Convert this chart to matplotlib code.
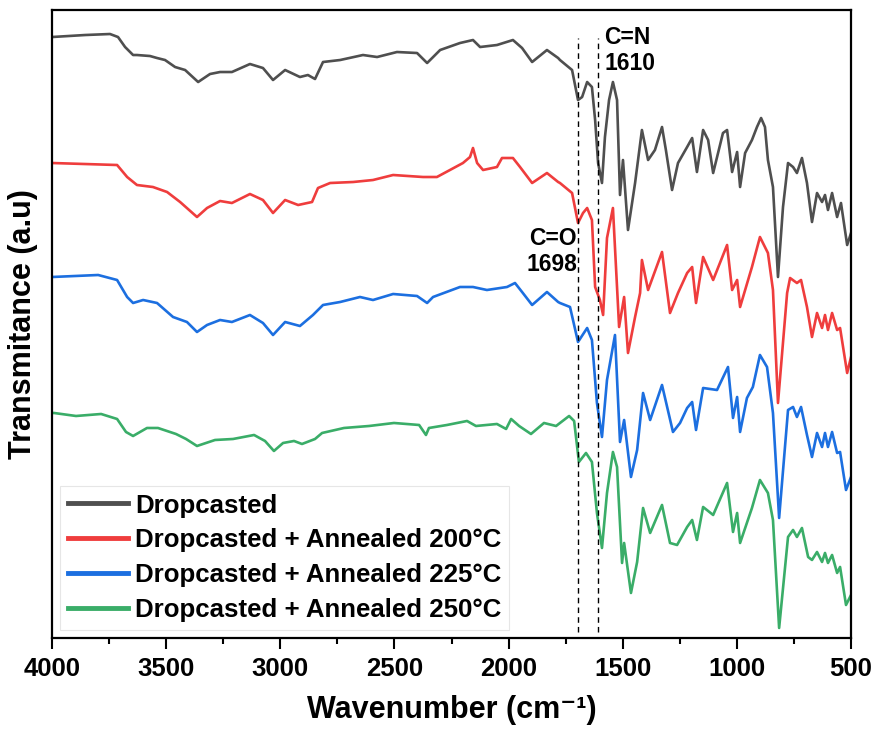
import matplotlib
matplotlib.use("Agg")
import matplotlib.pyplot as plt
from matplotlib.ticker import MultipleLocator

plt.rcParams['font.family'] = ['Liberation Sans', 'DejaVu Sans']
plt.rcParams['font.weight'] = 'bold'

labels = ["Dropcasted",
          "Dropcasted + Annealed 200\u00b0C",
          "Dropcasted + Annealed 225\u00b0C",
          "Dropcasted + Annealed 250\u00b0C"]
colors = ["#4f4f4f", "#ef3d3d", "#1c6fe0", "#3aad68"]

# Dropcasted
wn_gray = [4000, 3855, 3746, 3711, 3680, 3645, 3628, 3571, 3540, 3505, 3461, 3417, 3360, 3308,
           3264, 3212, 3133, 3076, 3032, 2979, 2914, 2879, 2848, 2813, 2738, 2638, 2576, 2489,
           2401, 2357, 2335, 2300, 2213, 2156, 2125, 2051, 1981, 1941, 1897, 1832, 1783, 1775,
           1722, 1696, 1678, 1656, 1635, 1621, 1608, 1591, 1578, 1560, 1543, 1525, 1512, 1499,
           1477, 1446, 1416, 1389, 1359, 1328, 1311, 1284, 1258, 1218, 1196, 1175, 1148, 1126,
           1104, 1061, 1043, 1021, 999, 986, 964, 934, 912, 894, 877, 864, 842, 820, 798, 776,
           754, 737, 715, 693, 671, 649, 627, 614, 601, 583, 561, 544, 517, 500]
t_gray = [601, 603, 604, 601, 591, 583, 583, 582, 580, 578, 571, 568, 556, 564,
          566, 566, 574, 570, 558, 568, 561, 563, 559, 576, 578, 583, 581, 586,
          585, 575, 580, 588, 595, 598, 591, 593, 598, 590, 576, 588, 580, 578,
          568, 538, 541, 556, 551, 518, 475, 455, 501, 538, 556, 538, 443, 478,
          408, 455, 508, 478, 488, 511, 488, 448, 475, 491, 500, 466, 508, 498,
          465, 505, 508, 466, 486, 451, 485, 498, 511, 520, 511, 478, 451, 361, 431, 475,
          471, 465, 480, 455, 416, 445, 436, 443, 428, 445, 421, 435, 393, 405]

# Annealed 200 C
wn_red = [4000, 3715, 3671, 3628, 3558, 3496, 3439, 3365, 3321, 3264, 3212, 3133, 3076, 3032,
          2979, 2922, 2861, 2835, 2782, 2681, 2594, 2506, 2375, 2314, 2257, 2200, 2169, 2156,
          2138, 2112, 2051, 2029, 1981, 1950, 1897, 1832, 1783, 1775, 1722, 1696, 1674, 1656,
          1635, 1621, 1600, 1586, 1569, 1543, 1516, 1494, 1477, 1446, 1424, 1416, 1389, 1328,
          1293, 1258, 1218, 1196, 1179, 1148, 1104, 1043, 1021, 999, 986, 934, 899, 864, 842,
          820, 780, 767, 737, 719, 693, 671, 649, 627, 614, 601, 583, 561, 548, 517, 500]
t_red = [475, 473, 461, 453, 451, 446, 436, 421, 430, 437, 435, 444, 438, 425,
         438, 433, 436, 450, 455, 456, 458, 463, 461, 461, 468, 475, 481, 490,
         475, 468, 471, 480, 480, 471, 455, 465, 456, 455, 445, 415, 425, 430,
         418, 351, 338, 323, 400, 430, 311, 341, 285, 321, 345, 378, 348, 386,
         325, 345, 365, 371, 335, 381, 358, 393, 348, 358, 331, 371, 401, 385, 348,
         235, 345, 360, 355, 358, 331, 301, 325, 310, 323, 308, 325, 308, 310, 265, 281]

# Annealed 225 C
wn_blue = [4000, 3798, 3715, 3671, 3645, 3601, 3540, 3470, 3409, 3365, 3321, 3264, 3212, 3133,
           3076, 3032, 2979, 2914, 2857, 2813, 2738, 2651, 2594, 2506, 2401, 2357, 2331, 2213,
           2156, 2095, 2007, 1972, 1941, 1897, 1832, 1783, 1775, 1731, 1696, 1656, 1635, 1613,
           1591, 1569, 1534, 1512, 1494, 1464, 1437, 1411, 1380, 1328, 1280, 1249, 1218, 1196,
           1179, 1148, 1087, 1039, 1017, 999, 986, 956, 930, 899, 868, 842, 815, 776, 754, 737,
           719, 693, 671, 649, 627, 614, 601, 583, 561, 548, 522, 500]
t_blue = [361, 363, 358, 341, 335, 338, 335, 321, 316, 306, 313, 318, 316, 323,
          315, 303, 316, 312, 323, 333, 336, 341, 338, 344, 342, 335, 341, 351,
          351, 348, 351, 355, 346, 333, 346, 336, 335, 331, 296, 310, 298, 235,
          201, 258, 303, 196, 218, 161, 188, 245, 218, 253, 206, 215, 230, 236,
          208, 250, 248, 271, 220, 241, 206, 240, 251, 283, 271, 225, 120, 228, 231, 221,
          231, 203, 181, 205, 191, 205, 191, 206, 185, 186, 148, 161]

# Annealed 250 C
wn_green = [4000, 3991, 3895, 3785, 3715, 3676, 3645, 3584, 3536, 3457, 3413, 3365, 3286, 3207,
            3115, 3067, 3028, 2988, 2940, 2905, 2848, 2817, 2721, 2611, 2502, 2392, 2362, 2349,
            2270, 2182, 2143, 2051, 2011, 1989, 1954, 1902, 1845, 1792, 1735, 1713, 1692, 1661,
            1635, 1613, 1591, 1569, 1543, 1525, 1503, 1494, 1464, 1437, 1411, 1380, 1328, 1293,
            1262, 1218, 1196, 1175, 1148, 1104, 1043, 1017, 999, 986, 934, 899, 864, 842, 815,
            776, 754, 737, 715, 688, 671, 649, 627, 614, 601, 583, 561, 548, 522, 500]
t_green = [225, 225, 222, 224, 219, 206, 202, 210, 210, 204, 199, 192, 198, 199,
           203, 197, 187, 195, 197, 194, 199, 205, 210, 212, 215, 213, 203, 210,
           213, 217, 212, 214, 209, 219, 212, 204, 215, 212, 222, 217, 176, 185,
           176, 125, 90, 145, 186, 171, 75, 95, 45, 76, 130, 105, 133, 95,
           93, 111, 118, 98, 131, 123, 155, 106, 125, 95, 130, 158, 145, 118, 10,
           101, 108, 101, 110, 81, 78, 86, 76, 85, 75, 83, 65, 71, 33, 43]

series_wn = [wn_gray, wn_red, wn_blue, wn_green]
series_t = [t_gray, t_red, t_blue, t_green]

marker_wn = [1698, 1610]
marker_text = ["C=O\n1698", "C=N\n1610"]

fig = plt.figure(figsize=(8.76, 7.42), dpi=100)
ax = fig.add_axes([0.0594, 0.1402, 0.9121, 0.8463])

for wn, t, c, lab in zip(series_wn, series_t, colors, labels):
    ax.plot(wn, t, color=c, lw=1.9, label=lab)

for w in marker_wn:
    ax.vlines(w, 6, 600, colors='black', linestyles=(0, (4, 3)), lw=1.0)

ax.text(1700, 411, marker_text[0], ha='right', va='top', fontsize=16.5,
        fontweight='bold', linespacing=1.15)
ax.text(1580, 612, marker_text[1], ha='left', va='top', fontsize=16.5,
        fontweight='bold', linespacing=1.15)

ax.set_xlim(4000, 500)
ax.set_ylim(0, 628)
ax.set_yticks([])
ax.xaxis.set_major_locator(MultipleLocator(500))
ax.xaxis.set_minor_locator(MultipleLocator(250))
ax.tick_params(axis='x', which='major', length=8, width=1.5, pad=6, labelsize=18.5, direction='out')
ax.tick_params(axis='x', which='minor', length=4, width=1.5, direction='out')
for s in ax.spines.values():
    s.set_linewidth(1.6)

ax.set_xlabel("Wavenumber (cm\u207b\u00b9)", fontsize=22, fontweight='bold', labelpad=10)
ax.set_ylabel("Transmitance (a.u)", fontsize=22, fontweight='bold', labelpad=10)

leg = ax.legend(loc='lower left', bbox_to_anchor=(0.01, 0.013), borderaxespad=0,
                fontsize=18.6, handlelength=2.35, handletextpad=0.25, labelspacing=0.42,
                borderpad=0.3, fancybox=False, framealpha=1, edgecolor='#e6e6e6')
leg.get_frame().set_linewidth(0.8)
for h in leg.get_lines():
    h.set_linewidth(3.5)

fig.savefig("out.png", dpi=100)
